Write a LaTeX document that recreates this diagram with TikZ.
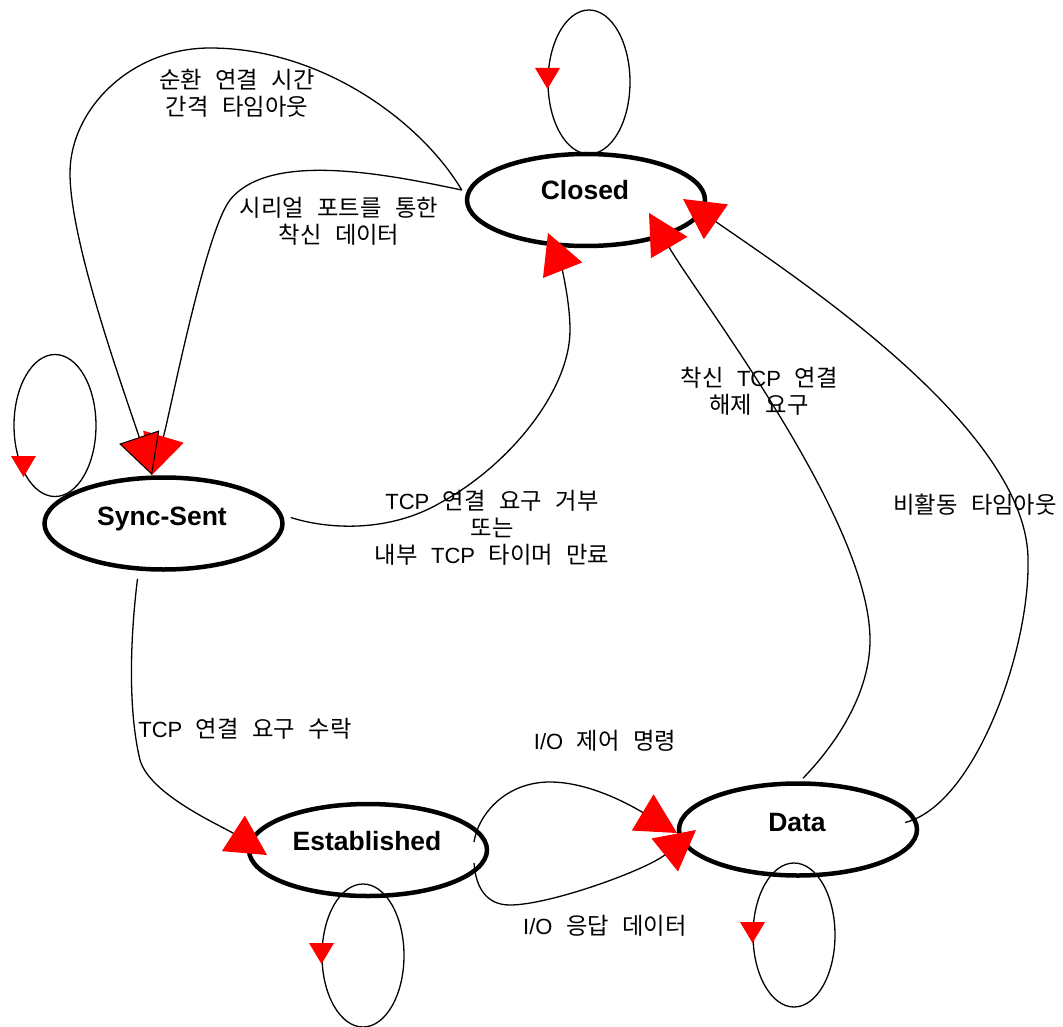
\documentclass[tikz,border=0pt]{standalone}
\usepackage{fontspec}
\setmainfont{Liberation Sans}
\newfontfamily\kr[WordSpace=2.6]{Noto Sans CJK KR}
\newfontfamily\latfont{Liberation Sans}
\newcommand{\lat}{\latfont\fontsize{22}{27}\selectfont}
\usetikzlibrary{arrows.meta,calc,shapes.geometric}
\begin{document}
\begin{tikzpicture}[x=1pt,y=-1pt,
  state/.style={ellipse, draw, line width=4.5pt, minimum width=238pt, minimum height=92pt, inner sep=0pt},
  stname/.style={font=\fontsize{26.5}{30}\selectfont\bfseries, anchor=base, inner sep=0pt},
  lbl/.style={font=\fontsize{23.3}{27}\kr, align=center, inner sep=0pt},
  conn/.style={line width=1.3pt},
  bighead/.style={-{Triangle[length=40pt,width=42pt,color=red,fill=red]}},
  bigheado/.style={-{Triangle[length=40pt,width=42pt,color=black,fill=red,line width=1pt]}},
  loopline/.style={line width=1.3pt},
  looptri/.style={fill=red}
]
\useasboundingbox (0,0) rectangle (1063,1027);

% states
\node[state] (closed) at (586,200) {};
\node[state] (sync) at (163.5,523.5) {};
\node[state] (est) at (368,850) {};
\node[state] (data) at (798,829.5) {};
\node[stname] (closedT) at (585,200) {Closed};
\node[stname] (syncT) at (162,525) {Sync-Sent};
\node[stname] (estT) at (367,850) {Established};
\node[stname] (dataT) at (797,831) {Data};

% self loops
\coordinate (lc1) at ($(closed.center)+(3,-118)$);
\draw[loopline] (lc1) ellipse [x radius=41pt, y radius=72pt];
\fill[looptri] ($(lc1)+(-54,-14)$) -- ++(25,0) -- ++(-12.5,21) -- cycle;

\coordinate (lc2) at ($(sync.center)+(-108.5,-98)$);
\draw[loopline] (lc2) ellipse [x radius=41pt, y radius=71pt];
\fill[looptri] ($(lc2)+(-44,30.5)$) -- ++(25,0) -- ++(-12.5,21) -- cycle;

\coordinate (lc3) at ($(est.center)+(-5,105.5)$);
\draw[loopline] (lc3) ellipse [x radius=41pt, y radius=71.5pt];
\fill[looptri] ($(lc3)+(-54,-12.5)$) -- ++(25,0) -- ++(-12.5,21) -- cycle;

\coordinate (lc4) at ($(data.center)+(-4,105.5)$);
\draw[loopline] (lc4) ellipse [x radius=41pt, y radius=72pt];
\fill[looptri] ($(lc4)+(-54,-13)$) -- ++(25,0) -- ++(-12.5,21) -- cycle;

% connectors
\draw[conn,bighead] ($(closed.west)+(-3,-10)$) .. controls (390,175) and (270,150) .. (230,200)
  .. controls (205,232) and (169,418) .. ($(sync.center)+(-11.5,-48.5)$);
\draw[conn,bigheado] ($(closed.west)+(-3,-10)$) .. controls (420,120) and (320,48) .. (210,48)
  .. controls (130,48) and (70,110) .. (70,173)
  .. controls (70,240) and (120,380) .. ($(sync.center)+(-11.5,-48.5)$);
\draw[conn,bighead] ($(sync.east)+(6,-6)$) .. controls (330,530) and (390,532) .. (440,503)
  .. controls (510,465) and (570,390) .. (570,330)
  .. controls (570,300) and (561,266) .. ($(closed.center)+(-38,33)$);
\draw[conn,bighead] ($(data.north)+(5,-3)$) .. controls (840,740) and (870,690) .. (870,640)
  .. controls (870,520) and (700,300) .. ($(closed.center)+(63,13)$);
\draw[conn,bighead] ($(data.center)+(107,-7)$) .. controls (975,805) and (1030,650) .. (1028,560)
  .. controls (1028,430) and (800,280) .. ($(closed.center)+(97,-1)$);
\draw[conn,bighead] ($(sync.south)+(-26,7)$) .. controls (130,640) and (128,710) .. (140,760)
  .. controls (150,795) and (222,826) .. ($(est.center)+(-101,5)$);
\draw[conn,bighead] ($(est.center)+(106,-8)$) .. controls (478,815) and (505,782) .. (550,782)
  .. controls (590,782) and (632,806) .. ($(data.center)+(-121,3.5)$);
\draw[conn,bighead] ($(est.center)+(106,13)$) .. controls (476,890) and (488,905) .. (510,905)
  .. controls (550,905) and (646,870) .. ($(data.center)+(-102,0.5)$);

% labels
\node[lbl] (l1) at (237,93) {순환 연결 시간\\간격 타임아웃};
\node[lbl] (l2) at (339,221) {시리얼 포트를 통한\\착신 데이터};
\node[lbl] (l3) at (492,528) {{\lat TCP} 연결 요구 거부\\또는\\내부 {\lat TCP} 타이머 만료};
\node[lbl] (l4) at (759,391) {착신 {\lat TCP} 연결\\해제 요구};
\node[lbl] (l5) at (975,505) {비활동 타임아웃};
\node[lbl] (l6) at (245,729) {{\lat TCP} 연결 요구 수락};
\node[lbl] (l7) at (605,741) {{\lat I/O} 제어 명령};
\node[lbl] (l8) at (605,926) {{\lat I/O} 응답 데이터};
\end{tikzpicture}
\end{document}
